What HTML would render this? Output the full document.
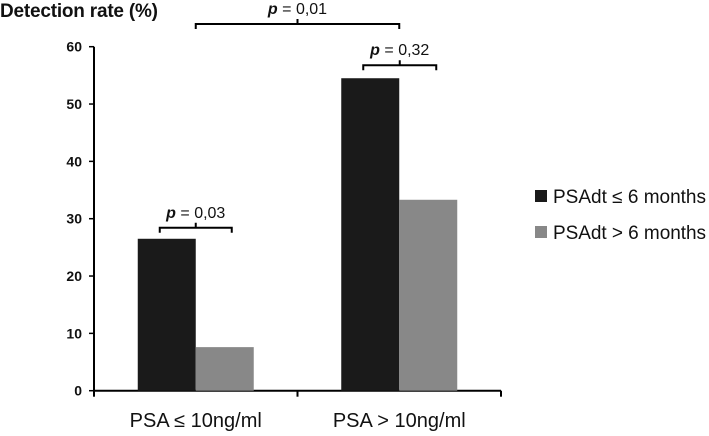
<!DOCTYPE html>
<html><head><meta charset="utf-8"><style>
html,body{margin:0;padding:0;background:#fff;}
svg text{font-family:"Liberation Sans",sans-serif;fill:#111;}
</style></head><body>
<svg id="chart" width="709" height="431" viewBox="0 0 709 431" xmlns="http://www.w3.org/2000/svg">
<text x="0" y="17" font-size="19" font-weight="bold" textLength="158">Detection rate (%)</text>
<g id="axes"></g>
<g id="bars"></g>
<g id="brackets"></g>
<g>
<rect x="535" y="190" width="12" height="12" fill="#1a1a1a"/>
<text x="553" y="203" font-size="19" textLength="153">PSAdt ≤ 6 months</text>
<rect x="535" y="226" width="12" height="12" fill="#888"/>
<text x="553" y="239" font-size="19" textLength="153">PSAdt &gt; 6 months</text>
</g>
</svg>
<script>
const categories = ["PSA ≤ 10ng/ml", "PSA > 10ng/ml"];
const seriesShort = [26.5, 54.5];
const seriesLong = [7.6, 33.3];
const yTicks = [0, 10, 20, 30, 40, 50, 60];
const ns = "http://www.w3.org/2000/svg";
const x0 = 94, x1 = 501, yBase = 390.7, yTop = 46.7, yMax = 60;
const groupW = (x1 - x0) / categories.length;
const barW = 58;
function yScale(v){ return yBase - (v / yMax) * (yBase - yTop); }
function groupCenter(i){ return x0 + groupW * (i + 0.5); }
function mk(tag, attrs, parent){ const e = document.createElementNS(ns, tag); for (const k in attrs) e.setAttribute(k, attrs[k]); parent.appendChild(e); return e; }
const axes = document.getElementById('axes');
let l = mk('line', {x1:x0, y1:yTop, x2:x0, y2:yBase, stroke:'#000', 'stroke-width':2}, axes);


l = mk('line', {x1:x0, y1:yBase, x2:x1, y2:yBase, stroke:'#000', 'stroke-width':2}, axes);


yTicks.forEach(v => {
  const y = yScale(v);
  const t = mk('line', {x1:x0-5, y1:y, x2:x0, y2:y, stroke:'#000', 'stroke-width':1.5}, axes);
  
  
  const tx = mk('text', {x:x0-12, y:y+5, 'font-size':14, 'font-weight':'bold', 'text-anchor':'end'}, axes);
  tx.textContent = v;
  
  
});
for (let i = 0; i <= categories.length; i++) {
  const x = x0 + groupW * i;
  const t = mk('line', {x1:x, y1:yBase, x2:x, y2:yBase+6, stroke:'#000', 'stroke-width':2}, axes);
  
  
}
categories.forEach((c, i) => {
  const tx = mk('text', {x:groupCenter(i), y:427, 'font-size':20, 'text-anchor':'middle'}, axes);
  tx.textContent = c;
  
  
});
const bars = document.getElementById('bars');
categories.forEach((c, i) => {
  const cx = groupCenter(i);
  const b1 = mk('rect', {x:cx-barW, y:yScale(seriesShort[i]), width:barW, height:yBase-yScale(seriesShort[i]), fill:'#1a1a1a'}, bars);
  
  
  const b2 = mk('rect', {x:cx, y:yScale(seriesLong[i]), width:barW, height:yBase-yScale(seriesLong[i]), fill:'#888'}, bars);
  
  
});
const br = document.getElementById('brackets');
function bracket(xa, xb, y, label, name){
  const cx = (xa + xb) / 2;
  const p = mk('path', {d:`M${xa},${y+5} V${y} H${xb} V${y+5} M${cx},${y} V${y-5}`, fill:'none', stroke:'#000', 'stroke-width':2}, br);
  
  
  const t = mk('text', {x:cx, y:y-10, 'font-size':16, 'text-anchor':'middle'}, br);
  t.innerHTML = '<tspan font-style="italic" font-weight="bold">p</tspan> = ' + label;
  
  
}
bracket(groupCenter(0)-36, groupCenter(0)+36, yScale(seriesShort[0])-11, '0,03', 'bracket-low-psa');
bracket(groupCenter(1)-36, groupCenter(1)+37, yScale(seriesShort[1])-13, '0,32', 'bracket-high-psa');
bracket(groupCenter(0), groupCenter(1), 24, '0,01', 'bracket-between-groups');
</script>
</body></html>
